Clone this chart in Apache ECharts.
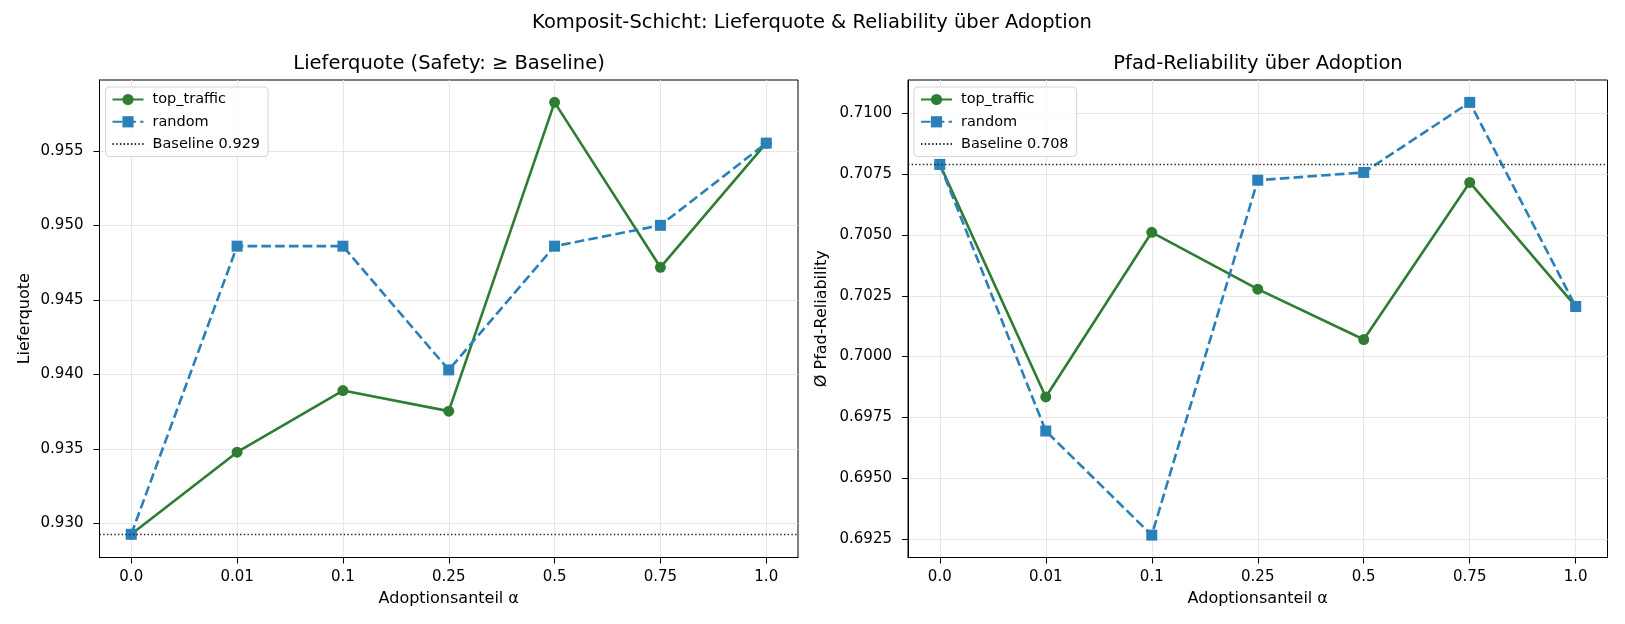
<!DOCTYPE html>
<html lang="de">
<head>
<meta charset="UTF-8">
<title>Komposit-Schicht</title>
<script src="https://cdn.jsdelivr.net/npm/echarts@6/dist/echarts.min.js"></script>
<style>
    html, body { margin: 0; padding: 0; background: #fff; }
    #main { width: 1625px; height: 624px; }
</style>
</head>
<body>
<div id="main"></div>
<script>
// Adoptionsanteile (x-Kategorien)
var alphas = ['0.0', '0.01', '0.1', '0.25', '0.5', '0.75', '1.0'];

// Lieferquote
var lieferTop = [0.92926, 0.93477, 0.93891, 0.93753, 0.95827, 0.94719, 0.95553];
var lieferRandom = [0.92926, 0.94861, 0.94861, 0.94030, 0.94861, 0.95001, 0.95553];
var lieferBaseline = 0.92926;
var lieferTicks = [0.930, 0.935, 0.940, 0.945, 0.950, 0.955];

// Pfad-Reliability
var relTop = [0.70790, 0.69834, 0.70511, 0.70277, 0.70070, 0.70716, 0.70206];
var relRandom = [0.70790, 0.69694, 0.69266, 0.70725, 0.70757, 0.71045, 0.70206];
var relBaseline = 0.70790;
var relTicks = [0.6925, 0.6950, 0.6975, 0.7000, 0.7025, 0.7050, 0.7075, 0.7100];

var GREEN = '#2e7d32';
var BLUE = '#2a80b9';
var FONT = 'DejaVu Sans';

function pairs(values) {
    return values.map(function (v, i) { return [i, v]; });
}

function xAxisFor(idx) {
    var idxTicks = alphas.map(function (a, i) { return i; });
    return {
        type: 'value', gridIndex: idx, min: -0.3, max: 6.3,
        name: 'Adoptionsanteil α', nameLocation: 'middle', nameGap: 33,
        nameTextStyle: { fontFamily: FONT, fontSize: 16, color: '#000' },
        axisLine: { show: true, onZero: false, lineStyle: { color: '#000', width: 1 } },
        axisTick: { show: true, length: 6, customValues: idxTicks, lineStyle: { color: '#000' } },
        axisLabel: {
            customValues: idxTicks, margin: 12, fontFamily: FONT, fontSize: 15, color: '#000',
            formatter: function (v) { return alphas[Math.round(v)]; }
        },
        splitLine: { show: true, lineStyle: { color: '#e6e6e6', width: 1 } }
    };
}

function yAxisFor(idx, min, max, ticks, digits, name, gap) {
    return {
        type: 'value', gridIndex: idx, min: min, max: max,
        name: name, nameLocation: 'middle', nameGap: gap,
        nameTextStyle: { fontFamily: FONT, fontSize: 16, color: '#000' },
        axisLine: { show: true, onZero: false, lineStyle: { color: '#000', width: 1 } },
        axisTick: { show: true, length: 6, customValues: ticks, lineStyle: { color: '#000' } },
        axisLabel: {
            customValues: ticks, margin: 16, fontFamily: FONT, fontSize: 15, color: '#000',
            formatter: function (v) { return v.toFixed(digits); }
        },
        splitLine: { show: true, lineStyle: { color: '#e6e6e6', width: 1 } }
    };
}

function seriesFor(idx, top, rnd, base) {
    var baseName = 'Baseline ' + base.toFixed(3);
    return [
        {
            name: 'top_traffic', type: 'line', xAxisIndex: idx, yAxisIndex: idx,
            data: pairs(top), symbol: 'circle', symbolSize: 11,
            lineStyle: { color: GREEN, width: 2.6 }, itemStyle: { color: GREEN }
        },
        {
            name: 'random', type: 'line', xAxisIndex: idx, yAxisIndex: idx,
            data: pairs(rnd), symbol: 'rect', symbolSize: 11,
            lineStyle: { color: BLUE, width: 2.6, type: [9.6, 4.2] }, itemStyle: { color: BLUE }
        },
        {
            name: baseName, type: 'line', xAxisIndex: idx, yAxisIndex: idx,
            data: [], symbol: 'none', z: 1,
            lineStyle: { color: '#222', width: 1.4, type: [1.4, 2.3] }, itemStyle: { color: '#222' },
            markLine: {
                silent: true, symbol: 'none', precision: 6, label: { show: false },
                lineStyle: { color: '#222', width: 1.4, type: [1.4, 2.3] },
                data: [{ yAxis: base }]
            }
        }
    ];
}

function legendFor(left, base) {
    return {
        orient: 'vertical', left: left, top: 87,
        data: [
            'top_traffic',
            'random',
            { name: 'Baseline ' + base.toFixed(3), itemStyle: { opacity: 0 } }
        ],
        itemWidth: 31, itemHeight: 14, itemGap: 7.3, padding: [5, 8, 5, 6],
        backgroundColor: 'rgba(255,255,255,0.8)', borderColor: '#d4d4d4', borderWidth: 1, borderRadius: 4,
        textStyle: { fontFamily: FONT, fontSize: 14.5, color: '#000', padding: [0, 0, 0, 4] }
    };
}

var myChart = echarts.init(document.getElementById('main'));

var titleStyle = { fontFamily: FONT, fontSize: 19.5, fontWeight: 'normal', color: '#000' };

var option = {
    animation: false,
    backgroundColor: '#fff',
    title: [
        { text: 'Komposit-Schicht: Lieferquote & Reliability über Adoption', left: 812, top: 13, textAlign: 'center', padding: 0, textStyle: titleStyle },
        { text: 'Lieferquote (Safety: ≥ Baseline)', left: 449, top: 54, textAlign: 'center', padding: 0, textStyle: titleStyle },
        { text: 'Pfad-Reliability über Adoption', left: 1258, top: 54, textAlign: 'center', padding: 0, textStyle: titleStyle }
    ],
    grid: [
        { left: 99.5, top: 80, width: 698.5, height: 477.5, show: true, borderColor: '#000', borderWidth: 1, backgroundColor: '#fff' },
        { left: 908, top: 80, width: 699.5, height: 477.5, show: true, borderColor: '#000', borderWidth: 1, backgroundColor: '#fff' }
    ],
    legend: [legendFor(105.5, lieferBaseline), legendFor(914, relBaseline)],
    xAxis: [xAxisFor(0), xAxisFor(1)],
    yAxis: [
        yAxisFor(0, 0.92770, 0.95977, lieferTicks, 3, 'Lieferquote', 67),
        yAxisFor(1, 0.69174, 0.71137, relTicks, 4, 'Ø Pfad-Reliability', 78)
    ],
    series: seriesFor(0, lieferTop, lieferRandom, lieferBaseline)
        .concat(seriesFor(1, relTop, relRandom, relBaseline))
};

myChart.setOption(option);
</script>
</body>
</html>
